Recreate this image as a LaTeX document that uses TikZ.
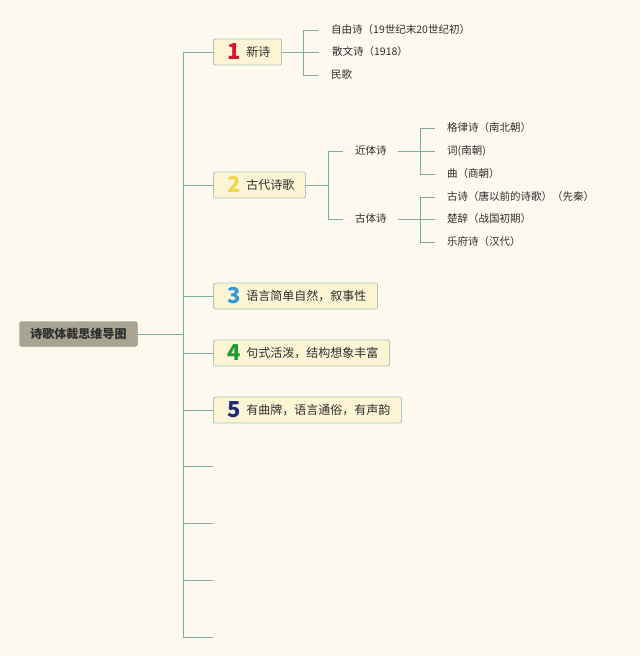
\documentclass[tikz,border=0pt]{standalone}
\usepackage{fontspec}
\usepackage{xcolor}
\newfontfamily\cjk{Noto Sans CJK SC}
\usetikzlibrary{positioning}

\definecolor{bgcol}{HTML}{FDF9EF}
\definecolor{linkcol}{HTML}{7BAF9A}
\definecolor{boxfill}{HTML}{FDF4D5}
\definecolor{boxdraw}{HTML}{A9CCB5}
\definecolor{rootfill}{HTML}{A8A493}
\definecolor{txtcol}{HTML}{2E2E2E}
\definecolor{onecol}{HTML}{D2192C}
\definecolor{twocol}{HTML}{EDD84A}
\definecolor{threecol}{HTML}{2E9BDA}
\definecolor{fourcol}{HTML}{1F9A31}
\definecolor{fivecol}{HTML}{1D2A78}

\newcommand{\numtag}[2]{\makebox[33pt][r]{\raisebox{-3pt}{\textcolor{#1}{\fontsize{22}{22}\selectfont\bfseries #2}}\hspace{6pt}}}

\begin{document}
\begin{tikzpicture}[x=1pt,y=-1pt,
        link/.style={draw=linkcol,line width=0.9pt},
        root node/.style={rectangle,rounded corners=2.5pt,fill=rootfill,draw=rootfill!92!black,
          font=\cjk\bfseries\fontsize{12}{12}\selectfont,text=txtcol,
          inner xsep=11pt,minimum height=25pt,text height=10pt,text depth=1.5pt},
        main node/.style={rectangle,rounded corners=2pt,fill=boxfill,draw=boxdraw,line width=0.9pt,
          font=\cjk\fontsize{12}{12}\selectfont,text=txtcol,anchor=west,
          inner xsep=0pt,minimum height=26pt,text height=10pt,text depth=1pt},
        leaf/.style={font=\cjk\fontsize{10.5}{10.5}\selectfont,text=txtcol,anchor=west,
          inner sep=0pt,text height=8pt,text depth=2pt}]
        % background and margins
        \fill[bgcol] (0,0) rectangle (640,656);
        \useasboundingbox (0,0) rectangle (640,656);

        \node[root node] (root) at (78.5,334) {诗歌体裁思维导图};

        \node[main node] (b1) at (213,52) {\numtag{onecol}{1}新诗\hspace*{11pt}};
        \node[main node] (b2) at (213,185) {\numtag{twocol}{2}古代诗歌\hspace*{11pt}};
        \node[main node] (b3) at (213,296) {\numtag{threecol}{3}语言简单自然，叙事性\hspace*{11pt}};
        \node[main node] (b4) at (213,353) {\numtag{fourcol}{4}句式活泼，结构想象丰富\hspace*{11pt}};
        \node[main node] (b5) at (213,410) {\numtag{fivecol}{5}有曲牌，语言通俗，有声韵\hspace*{11pt}};

        \coordinate (tr) at (183,334);
        \coordinate (e1) at (213,466);
        \coordinate (e2) at (213,523);
        \coordinate (e3) at (213,580);
        \coordinate (e4) at (213,637);

        % new poetry
        \node[leaf] (a2) [right=50pt of b1] {散文诗（1918）};
        \node[leaf] (a1) at (331,30) {自由诗（19世纪末20世纪初）};
        \node[leaf] (a3) at (331,75) {民歌};

        % ancient poetry
        \node[leaf] (c1) at (355,151) {近体诗};
        \node[leaf] (c2) at (355,219) {古体诗};
        \node[leaf] (d1) at (447,128) {格律诗（南北朝）};
        \node[leaf] (d2) at (447,151) {词(南朝)};
        \node[leaf] (d3) at (447,174) {曲（商朝）};
        \node[leaf] (d4) at (447,197) {古诗（唐以前的诗歌）（先秦）};
        \node[leaf] (d5) at (447,219) {楚辞（战国初期）};
        \node[leaf] (d6) at (447,242) {乐府诗（汉代）};

        % trunk
        \draw[link] (root.east) -- (tr);
        \draw[link] (tr) |- (b1.west);
        \draw[link] (tr) |- (b2.west);
        \draw[link] (tr) |- (b3.west);
        \draw[link] (tr) |- (b4.west);
        \draw[link] (tr) |- (b5.west);
        \draw[link] (tr) |- (e1);
        \draw[link] (tr) |- (e2);
        \draw[link] (tr) |- (e3);
        \draw[link] (tr) |- (e4);

        % brackets
        \draw[link] (b1.east) -- ++(22,0) coordinate (k1);
        \draw[link] (k1) |- ([xshift=-13pt]a1.west);
        \draw[link] (k1) |- ([xshift=-13pt]a2.west);
        \draw[link] (k1) |- ([xshift=-13pt]a3.west);

        \draw[link] (b2.east) -- ++(23,0) coordinate (k2);
        \draw[link] (k2) |- ([xshift=-12pt]c1.west);
        \draw[link] (k2) |- ([xshift=-12pt]c2.west);

        \draw[link] ([xshift=11pt]c1.east) -- ++(23,0) coordinate (k3);
        \draw[link] (k3) |- ([xshift=-12pt]d1.west);
        \draw[link] (k3) |- ([xshift=-12pt]d2.west);
        \draw[link] (k3) |- ([xshift=-12pt]d3.west);

        \draw[link] ([xshift=11pt]c2.east) -- ++(23,0) coordinate (k4);
        \draw[link] (k4) |- ([xshift=-12pt]d4.west);
        \draw[link] (k4) |- ([xshift=-12pt]d5.west);
        \draw[link] (k4) |- ([xshift=-12pt]d6.west);
\end{tikzpicture}
\end{document}
